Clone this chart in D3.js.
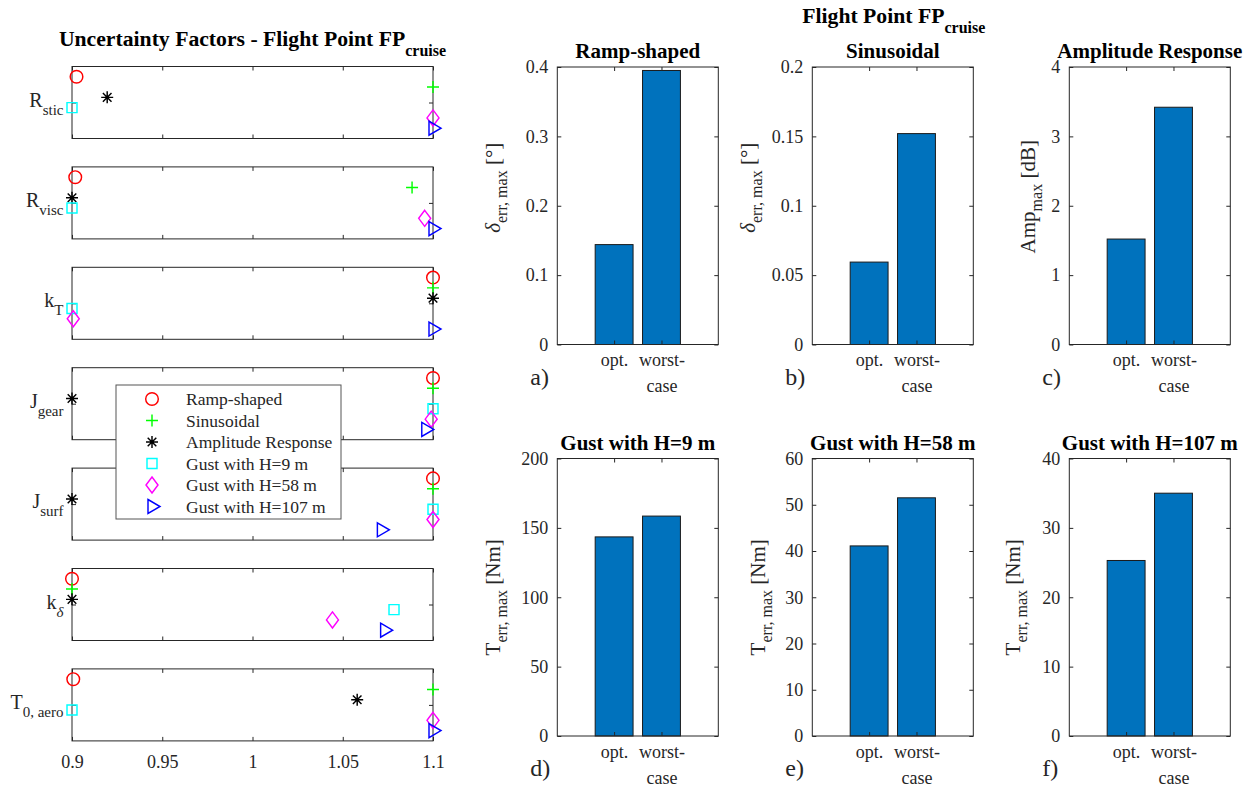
<!DOCTYPE html>
<html lang="en">
<head>
<meta charset="UTF-8">
<title>Uncertainty Factors - Flight Point FP cruise</title>
<script src="https://d3js.org/d3.v7.min.js"></script>
<style>
    body { margin: 0; background: #fff; }
    text { font-family: "Liberation Serif", "Times New Roman", serif; fill: #262626; }
</style>
</head>
<body>
<script>
    var width = 1257, height = 794;

    // ---- left panel: uncertainty factors (one row per parameter)
    var params = ['R', 'R', 'k', 'J', 'J', 'k', 'T'];
    var paramSubs = ['stic', 'visc', 'T', 'gear', 'surf', 'δ', '0, aero'];
    var seriesNames = ['Ramp-shaped', 'Sinusoidal', 'Amplitude Response',
        'Gust with H=9 m', 'Gust with H=58 m', 'Gust with H=107 m'];
    var rampX    = [0.9025, 0.9018, 1.1, 1.1, 1.1, 0.9, 0.9007];
    var sinusX   = [1.1, 1.0884, 1.1, 1.1, 1.1, 0.9, 1.1];
    var ampX     = [0.9195, 0.9, 1.1, 0.9, 0.9, 0.9, 1.058];
    var gust9X   = [0.9, 0.9, 0.9, 1.1, 1.1, 1.0784, 0.9];
    var gust58X  = [1.1, 1.0954, 0.9007, 1.099, 1.1, 1.0443, 1.1];
    var gust107X = [1.1, 1.1, 1.1, 1.096, 1.0714, 1.0732, 1.1];
    var seriesX = [rampX, sinusX, ampX, gust9X, gust58X, gust107X];
    var xTicks = [0.9, 0.95, 1, 1.05, 1.1];

    // ---- right panel: bar charts
    var barTitles = ['Ramp-shaped', 'Sinusoidal', 'Amplitude Response',
        'Gust with H=9 m', 'Gust with H=58 m', 'Gust with H=107 m'];
    var barCats = ['opt.', 'worst-case'];
    var optVals   = [0.144, 0.0594, 1.52, 143.5, 41.1, 25.3];
    var worstVals = [0.395, 0.152, 3.42, 158.5, 51.5, 35];
    var yMax = [0.4, 0.2, 4, 200, 60, 40];
    var yTicks = [[0, 0.1, 0.2, 0.3, 0.4], [0, 0.05, 0.1, 0.15, 0.2], [0, 1, 2, 3, 4],
        [0, 50, 100, 150, 200], [0, 10, 20, 30, 40, 50, 60], [0, 10, 20, 30, 40]];
    var yLabelMain = ['δ', 'δ', 'Amp', 'T', 'T', 'T'];
    var yLabelSub = ['err, max', 'err, max', 'max', 'err, max', 'err, max', 'err, max'];
    var yLabelUnit = ['[°]', '[°]', '[dB]', '[Nm]', '[Nm]', '[Nm]'];
    var panelLetters = ['a)', 'b)', 'c)', 'd)', 'e)', 'f)'];

    // ---- styles
    var colors = ['#ff0000', '#00ff00', '#000000', '#00ffff', '#ff00ff', '#0000ff'];
    var markers = [
        'M6.3,0A6.3,6.3,0,1,1,-6.3,0A6.3,6.3,0,1,1,6.3,0Z',
        'M-6,0H6M0,-6V6',
        'M-6,0H6M0,-6V6M-4.3,-4.3L4.3,4.3M-4.3,4.3L4.3,-4.3',
        'M-5,-5H5V5H-5Z',
        'M0,-8L6,0L0,8L-6,0Z',
        'M-4,-7L8,0L-4,7Z'
    ];
    var axisColor = '#262626';

    var svg = d3.select('body').append('svg').attr('width', width).attr('height', height);

    function addSub(t, main, sub, after, subSize, dy, italicMain) {
        var m = t.append('tspan').text(main);
        if (italicMain) m.attr('font-style', 'italic');
        t.append('tspan').attr('dy', dy).attr('font-size', subSize).text(sub);
        if (after) t.append('tspan').attr('dy', -dy).attr('font-size', t.attr('font-size')).text(after);
        return t;
    }

    function styleAxis(g) {
        g.select('.domain').remove();
        g.selectAll('.tick line').attr('stroke', axisColor);
        g.selectAll('.tick text').attr('fill', axisColor).attr('font-family', '"Liberation Serif", serif');
    }

    // ================= left panel =================
    var L = { left: 72, right: 433, top0: 66.5, step: 100.4, h: 72 };
    var xL = d3.scaleLinear().domain([0.9, 1.1]).range([L.left, L.right]);
    var yL = d3.scaleLinear().domain([0, 7]).range([L.h, 0]);

    svg.append('text').attr('x', (L.left + L.right) / 2).attr('y', 46)
        .attr('text-anchor', 'middle').attr('font-size', 21.7).attr('font-weight', 'bold')
        .style('fill', '#000')
        .call(function (t) { addSub(t, 'Uncertainty Factors - Flight Point FP', 'cruise', null, 16, 10); });

    params.forEach(function (p, i) {
        var g = svg.append('g').attr('transform', 'translate(0,' + (L.top0 + i * L.step) + ')');
        g.append('rect').attr('x', L.left).attr('y', 0).attr('width', L.right - L.left).attr('height', L.h)
            .attr('fill', 'none').attr('stroke', axisColor).attr('stroke-width', 1);
        var last = i === params.length - 1;
        g.append('g').attr('transform', 'translate(0,' + L.h + ')')
            .call(d3.axisBottom(xL).tickValues(xTicks).tickSize(-4).tickSizeOuter(0).tickPadding(14.5)
                .tickFormat(last ? d3.format('~g') : ''))
            .attr('font-size', 18).call(styleAxis);
        g.append('g').call(d3.axisTop(xL).tickValues(xTicks).tickSize(-4).tickFormat(''))
            .call(styleAxis);
        g.append('g').attr('transform', 'translate(' + L.right + ',0)')
            .call(d3.axisRight(yL).tickValues([3.5]).tickSize(-4).tickFormat('')).call(styleAxis);
        g.append('g').attr('transform', 'translate(' + L.left + ',0)')
            .call(d3.axisLeft(yL).tickValues([3.5]).tickSize(-4).tickFormat('')).call(styleAxis);
        var lab = g.append('text').attr('x', L.left - 8.5).attr('y', yL(3.5) + 4)
            .attr('text-anchor', 'end').attr('font-size', 20)
            .call(function (t) { addSub(t, p, paramSubs[i], null, 15, 8); });
        if (paramSubs[i] === 'δ') lab.select('tspan:last-child').attr('font-style', 'italic');

        seriesX.forEach(function (vals, s) {
            g.append('path').attr('d', markers[s])
                .attr('transform', 'translate(' + xL(vals[i]) + ',' + yL(6 - s) + ')')
                .attr('fill', 'none').attr('stroke', colors[s]).attr('stroke-width', 1.45);
        });
    });

    // legend
    var lg = svg.append('g').attr('transform', 'translate(116,385)');
    lg.append('rect').attr('width', 225).attr('height', 134).attr('fill', '#fff')
        .attr('stroke', '#555').attr('stroke-width', 1);
    seriesNames.forEach(function (n, s) {
        var yy = 14 + s * 21.5;
        lg.append('path').attr('d', markers[s]).attr('transform', 'translate(36,' + yy + ')')
            .attr('fill', 'none').attr('stroke', colors[s]).attr('stroke-width', 1.45);
        lg.append('text').attr('x', 70).attr('y', yy + 6).attr('font-size', 17.5).text(n);
    });

    // ================= right panel =================
    var colLeft = [557.3, 812.3, 1069.3], rowTop = [67, 458.5];
    var bw = 161, bh = 277.5;
    var labelOffset = [57, 57, 34, 57, 47, 49];
    var labelShift = [-18, -18, -9, 0, 0, 0];

    svg.append('text').attr('x', (colLeft[0] + colLeft[2] + bw) / 2).attr('y', 22.7)
        .attr('text-anchor', 'middle').attr('font-size', 21.7).attr('font-weight', 'bold')
        .style('fill', '#000')
        .call(function (t) { addSub(t, 'Flight Point FP', 'cruise', null, 16, 10); });

    var xB = d3.scaleLinear().domain([-0.2, 3.2]).range([0, bw]);

    barTitles.forEach(function (title, k) {
        var ox = colLeft[k % 3], oy = rowTop[Math.floor(k / 3)];
        var g = svg.append('g').attr('transform', 'translate(' + ox + ',' + oy + ')');
        var y = d3.scaleLinear().domain([0, yMax[k]]).range([bh, 0]);
        var vals = [optVals[k], worstVals[k]];
        var barW = xB(0.8) - xB(0);

        g.selectAll('rect.bar').data(vals).join('rect').attr('class', 'bar')
            .attr('x', function (d, i) { return xB(i + 1) - barW / 2; })
            .attr('y', function (d) { return y(d); })
            .attr('width', barW)
            .attr('height', function (d) { return y(0) - y(d); })
            .attr('fill', '#0072BD').attr('stroke', '#1a1a1a').attr('stroke-width', 1);

        g.append('rect').attr('width', bw).attr('height', bh).attr('fill', 'none')
            .attr('stroke', axisColor).attr('stroke-width', 1);

        g.append('g').call(d3.axisLeft(y).tickValues(yTicks[k]).tickSize(-4).tickPadding(9)
            .tickFormat(d3.format('~g'))).attr('font-size', 18).call(styleAxis);
        g.append('g').attr('transform', 'translate(' + bw + ',0)')
            .call(d3.axisRight(y).tickValues(yTicks[k]).tickSize(-4).tickFormat('')).call(styleAxis);
        g.append('g').call(d3.axisTop(xB).tickValues([1, 2]).tickSize(-4).tickFormat('')).call(styleAxis);
        var xa = g.append('g').attr('transform', 'translate(0,' + bh + ')')
            .call(d3.axisBottom(xB).tickValues([1, 2]).tickSize(-4).tickPadding(9.2)
                .tickFormat(function (d) { return barCats[d - 1]; }))
            .attr('font-size', 18).call(styleAxis);
        xa.selectAll('.tick text').each(function () {
            var t = d3.select(this), s = t.text();
            var cut = s.indexOf('-');
            if (cut > 0) {
                t.text(null);
                t.append('tspan').attr('x', 0).text(s.slice(0, cut + 1));
                t.append('tspan').attr('x', 0).attr('dy', 26).text(s.slice(cut + 1));
            }
        });

        g.append('text').attr('x', bw / 2).attr('y', -9).attr('text-anchor', 'middle')
            .attr('font-size', 21).attr('font-weight', 'bold').style('fill', '#000').text(title);

        g.append('text').attr('transform', 'translate(' + (-labelOffset[k]) + ',' + (bh / 2 + labelShift[k]) + ') rotate(-90)')
            .attr('text-anchor', 'middle').attr('font-size', 21)
            .call(function (t) { addSub(t, yLabelMain[k], yLabelSub[k], ' ' + yLabelUnit[k], 16, 7, yLabelMain[k] === 'δ'); });

        g.append('text').attr('x', -27).attr('y', bh + 40).attr('font-size', 24).text(panelLetters[k]);
    });
</script>
</body>
</html>
